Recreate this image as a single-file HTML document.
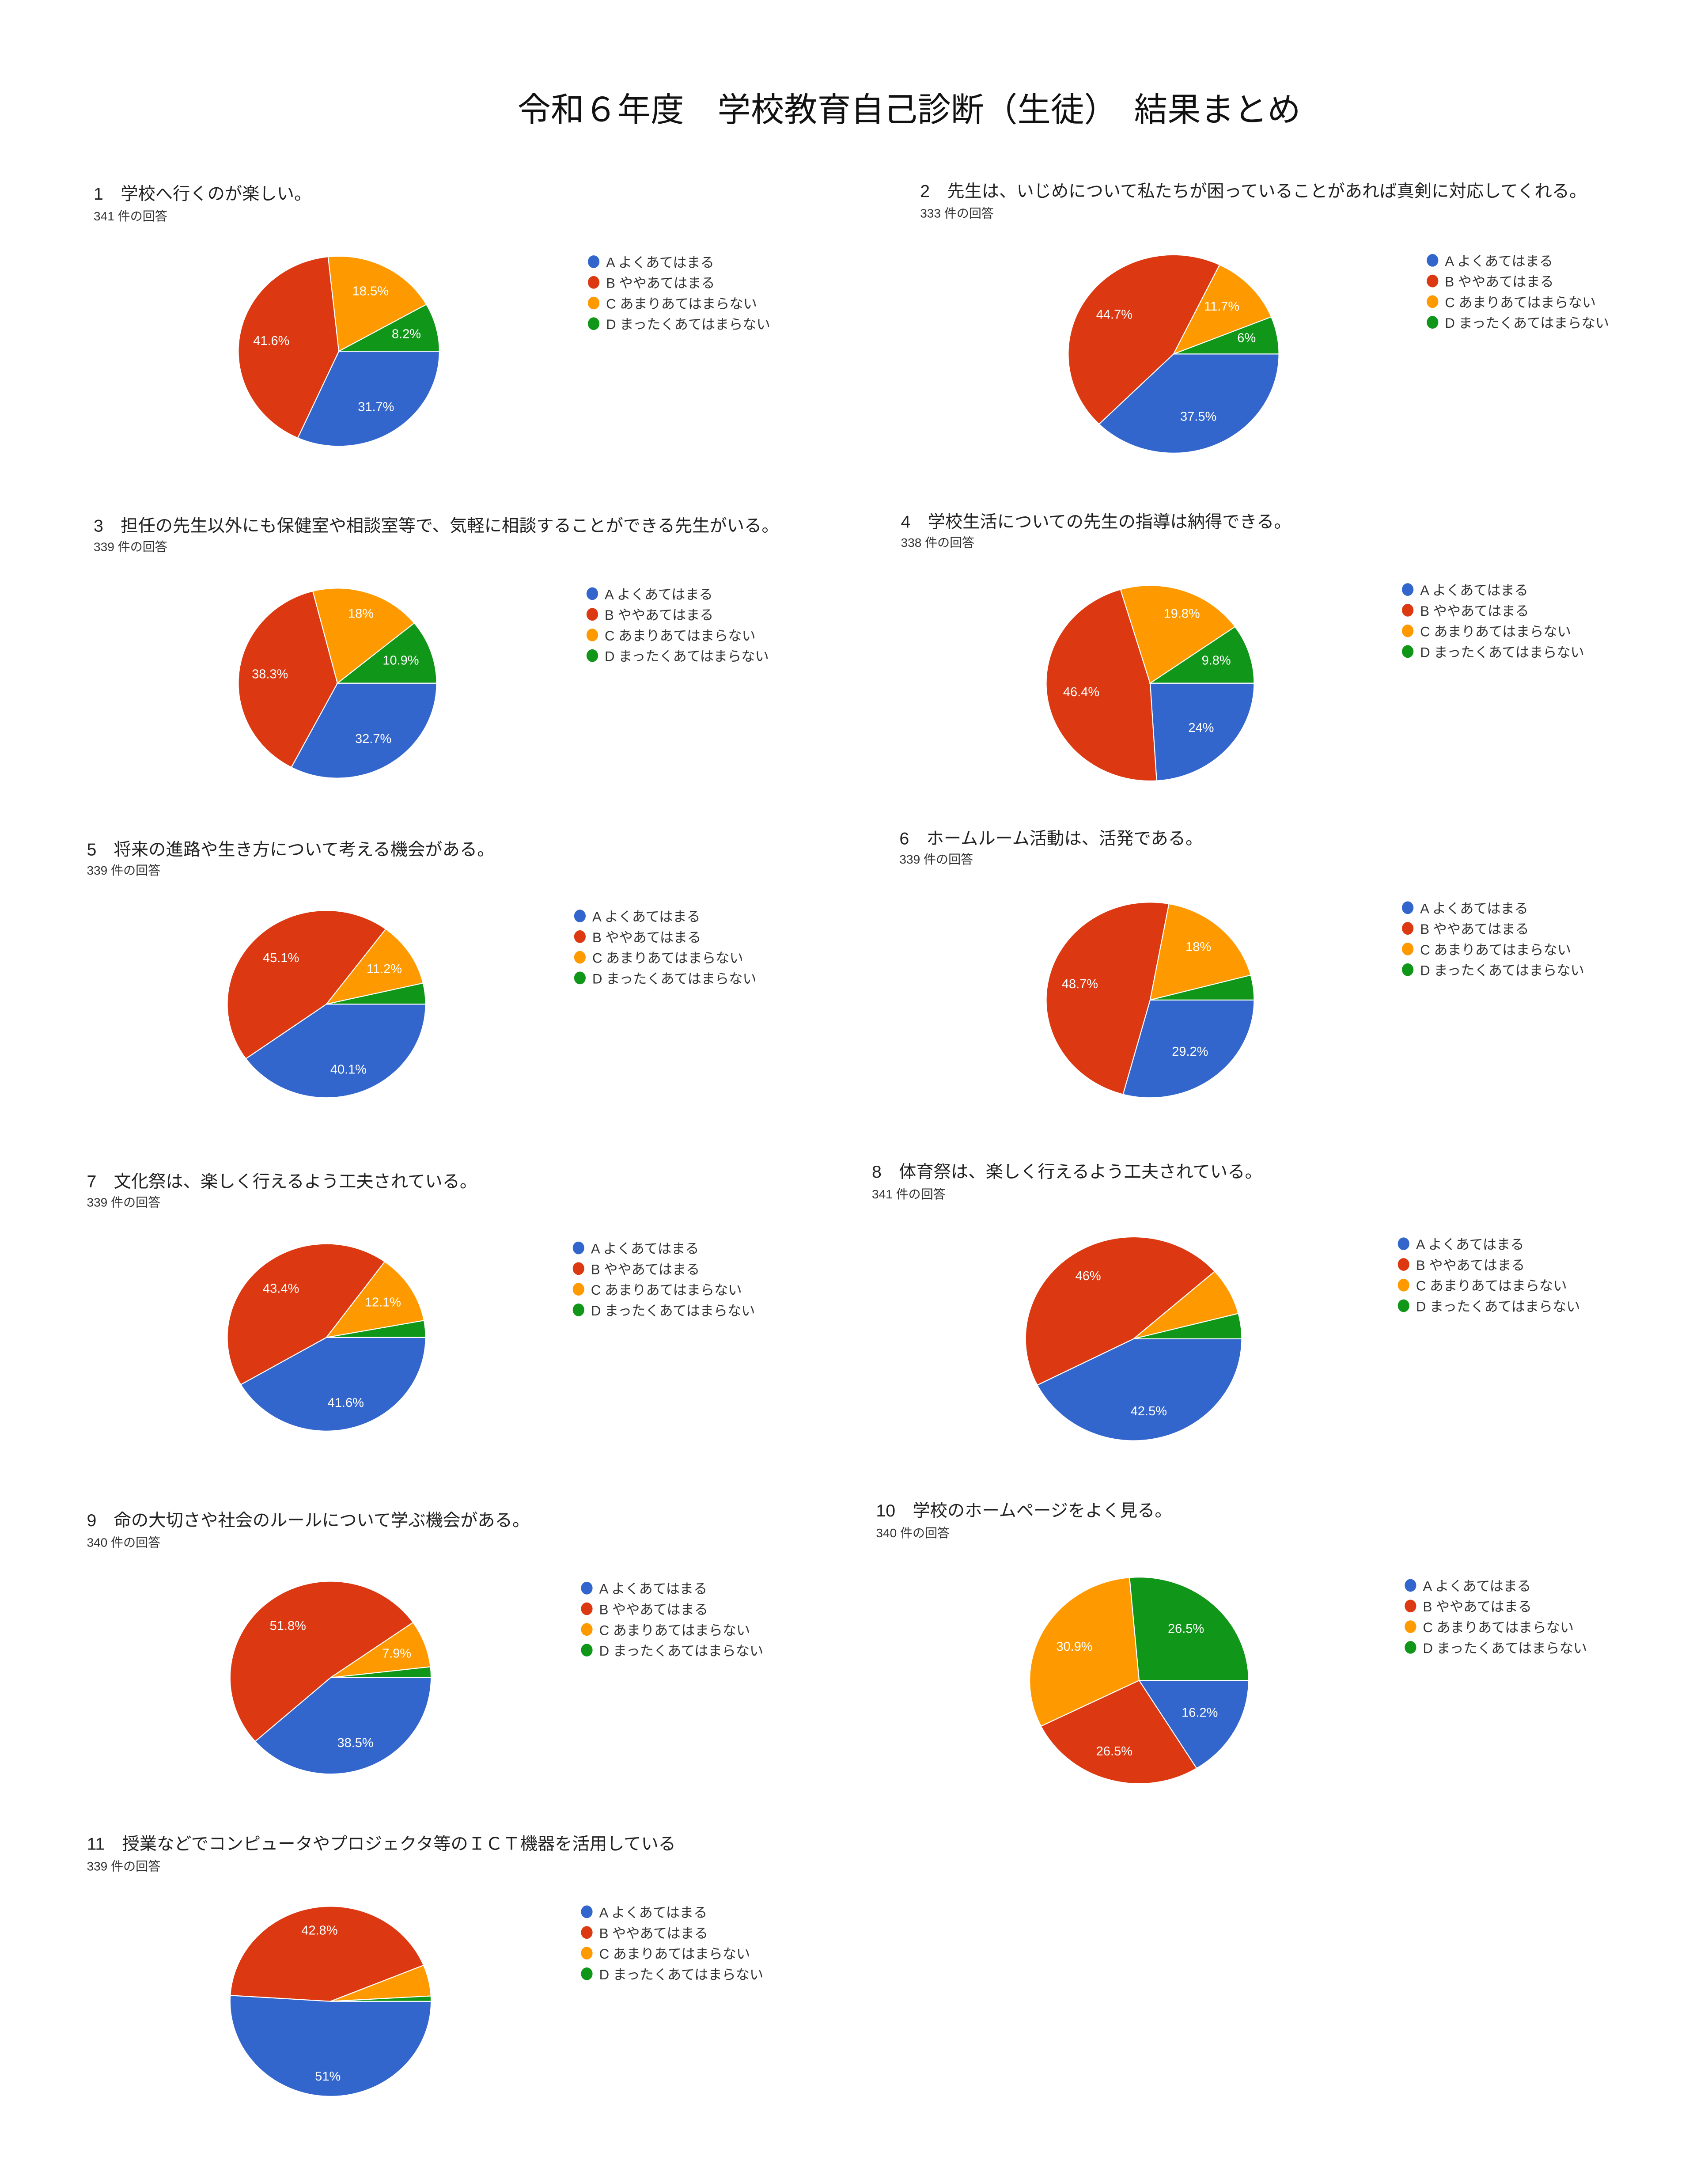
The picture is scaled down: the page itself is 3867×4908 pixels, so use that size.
<!DOCTYPE html>
<html><head><meta charset="utf-8">
<style>
html,body{margin:0;padding:0;background:#fff;}
svg{display:block;}
text{font-family:"Liberation Sans","Noto Sans CJK JP",sans-serif;}
.t{font-size:24.2px;fill:#111;}
.q{font-size:12.6px;fill:#222;}
.c{font-size:9px;fill:#333;}
.lg{font-size:10px;fill:#333;}
.p{font-size:9.3px;fill:#fff;text-anchor:middle;dominant-baseline:middle;}
</style></head><body>
<svg id="s" width="3867" height="4908" viewBox="0 0 1240 1574" preserveAspectRatio="none" xmlns="http://www.w3.org/2000/svg">
<rect width="1240" height="1574" fill="#fff"/>
<g id="pies"></g>
<text class="t" x="660" y="88" text-anchor="middle">令和６年度　学校教育自己診断（生徒）　結果まとめ</text>

<text class="q" x="68" y="145">1　学校へ行くのが楽しい。</text><text class="c" x="68" y="160">341 件の回答</text>
<text class="q" x="668" y="143">2　先生は、いじめについて私たちが困っていることがあれば真剣に対応してくれる。</text><text class="c" x="668" y="158">333 件の回答</text>
<text class="q" x="68" y="386">3　担任の先生以外にも保健室や相談室等で、気軽に相談することができる先生がいる。</text><text class="c" x="68" y="400">339 件の回答</text>
<text class="q" x="654" y="383">4　学校生活についての先生の指導は納得できる。</text><text class="c" x="654" y="397">338 件の回答</text>
<text class="q" x="63" y="621">5　将来の進路や生き方について考える機会がある。</text><text class="c" x="63" y="635">339 件の回答</text>
<text class="q" x="653" y="613">6　ホームルーム活動は、活発である。</text><text class="c" x="653" y="627">339 件の回答</text>
<text class="q" x="63" y="862">7　文化祭は、楽しく行えるよう工夫されている。</text><text class="c" x="63" y="876">339 件の回答</text>
<text class="q" x="633" y="855">8　体育祭は、楽しく行えるよう工夫されている。</text><text class="c" x="633" y="870">341 件の回答</text>
<text class="q" x="63" y="1108">9　命の大切さや社会のルールについて学ぶ機会がある。</text><text class="c" x="63" y="1123">340 件の回答</text>
<text class="q" x="636" y="1101">10　学校のホームページをよく見る。</text><text class="c" x="636" y="1116">340 件の回答</text>
<text class="q" x="63" y="1343">11　授業などでコンピュータやプロジェクタ等のＩＣＴ機器を活用している</text><text class="c" x="63" y="1358">339 件の回答</text>

<g id="legends"></g>
<g id="lt">
<text class="lg" x="440" y="194">A よくあてはまる</text><text class="lg" x="440" y="209">B ややあてはまる</text><text class="lg" x="440" y="224">C あまりあてはまらない</text><text class="lg" x="440" y="239">D まったくあてはまらない</text>
<text class="lg" x="1049" y="193">A よくあてはまる</text><text class="lg" x="1049" y="208">B ややあてはまる</text><text class="lg" x="1049" y="223">C あまりあてはまらない</text><text class="lg" x="1049" y="238">D まったくあてはまらない</text>
<text class="lg" x="439" y="435">A よくあてはまる</text><text class="lg" x="439" y="450">B ややあてはまる</text><text class="lg" x="439" y="465">C あまりあてはまらない</text><text class="lg" x="439" y="480">D まったくあてはまらない</text>
<text class="lg" x="1031" y="432">A よくあてはまる</text><text class="lg" x="1031" y="447">B ややあてはまる</text><text class="lg" x="1031" y="462">C あまりあてはまらない</text><text class="lg" x="1031" y="477">D まったくあてはまらない</text>
<text class="lg" x="430" y="669">A よくあてはまる</text><text class="lg" x="430" y="684">B ややあてはまる</text><text class="lg" x="430" y="699">C あまりあてはまらない</text><text class="lg" x="430" y="714">D まったくあてはまらない</text>
<text class="lg" x="1031" y="663">A よくあてはまる</text><text class="lg" x="1031" y="678">B ややあてはまる</text><text class="lg" x="1031" y="693">C あまりあてはまらない</text><text class="lg" x="1031" y="708">D まったくあてはまらない</text>
<text class="lg" x="429" y="910">A よくあてはまる</text><text class="lg" x="429" y="925">B ややあてはまる</text><text class="lg" x="429" y="940">C あまりあてはまらない</text><text class="lg" x="429" y="955">D まったくあてはまらない</text>
<text class="lg" x="1028" y="907">A よくあてはまる</text><text class="lg" x="1028" y="922">B ややあてはまる</text><text class="lg" x="1028" y="937">C あまりあてはまらない</text><text class="lg" x="1028" y="952">D まったくあてはまらない</text>
<text class="lg" x="435" y="1157">A よくあてはまる</text><text class="lg" x="435" y="1172">B ややあてはまる</text><text class="lg" x="435" y="1187">C あまりあてはまらない</text><text class="lg" x="435" y="1202">D まったくあてはまらない</text>
<text class="lg" x="1033" y="1155">A よくあてはまる</text><text class="lg" x="1033" y="1170">B ややあてはまる</text><text class="lg" x="1033" y="1185">C あまりあてはまらない</text><text class="lg" x="1033" y="1200">D まったくあてはまらない</text>
<text class="lg" x="435" y="1392">A よくあてはまる</text><text class="lg" x="435" y="1407">B ややあてはまる</text><text class="lg" x="435" y="1422">C あまりあてはまらない</text><text class="lg" x="435" y="1437">D まったくあてはまらない</text>
</g>

<g id="labels">
<text class="p" x="269" y="212">18.5%</text><text class="p" x="295" y="243">8.2%</text><text class="p" x="197" y="248">41.6%</text><text class="p" x="273" y="296">31.7%</text>
<text class="p" x="887" y="223">11.7%</text><text class="p" x="905" y="246">6%</text><text class="p" x="809" y="229">44.7%</text><text class="p" x="870" y="303">37.5%</text>
<text class="p" x="262" y="446">18%</text><text class="p" x="291" y="480">10.9%</text><text class="p" x="196" y="490">38.3%</text><text class="p" x="271" y="537">32.7%</text>
<text class="p" x="858" y="446">19.8%</text><text class="p" x="883" y="480">9.8%</text><text class="p" x="785" y="503">46.4%</text><text class="p" x="872" y="529">24%</text>
<text class="p" x="204" y="696">45.1%</text><text class="p" x="279" y="704">11.2%</text><text class="p" x="253" y="777">40.1%</text>
<text class="p" x="870" y="688">18%</text><text class="p" x="784" y="715">48.7%</text><text class="p" x="864" y="764">29.2%</text>
<text class="p" x="204" y="936">43.4%</text><text class="p" x="278" y="946">12.1%</text><text class="p" x="251" y="1019">41.6%</text>
<text class="p" x="790" y="927">46%</text><text class="p" x="834" y="1025">42.5%</text>
<text class="p" x="209" y="1181">51.8%</text><text class="p" x="288" y="1201">7.9%</text><text class="p" x="258" y="1266">38.5%</text>
<text class="p" x="780" y="1196">30.9%</text><text class="p" x="861" y="1183">26.5%</text><text class="p" x="871" y="1244">16.2%</text><text class="p" x="809" y="1272">26.5%</text>
<text class="p" x="232" y="1402">42.8%</text><text class="p" x="238" y="1508">51%</text>
</g>
</svg>
<script>
(function(){
var cols=["#3366cc","#dc3912","#ff9900","#109618"];
var pies=[
[246,255,73,69,[31.7,41.6,18.5,8.2]],
[852,257,76.5,72,[37.5,44.7,11.7,6.1]],
[245,496,72,69,[32.7,38.3,18.1,10.9]],
[835,496,75.5,71,[24,46.4,19.8,9.8]],
[237,729,72,68,[40.1,45.1,11.2,3.6]],
[835,726,75.5,71,[29.2,48.7,18,4.1]],
[237,971,72,68,[41.6,43.4,12.1,2.9]],
[823,972,78.5,74,[42.5,46,7.5,4]],
[240,1218,73,70,[38.5,51.8,7.9,1.8]],
[827,1220,79.5,75,[16.2,26.5,30.9,26.4]],
[240,1453,73,69,[51,42.8,5.3,0.9]]
];
var leg=[[431,190],[1040,189],[430,431],[1022,428],[421,665],[1022,659],[420,906],[1019,903],[426,1153],[1024,1151],[426,1388]];
var NS="http://www.w3.org/2000/svg",g=document.getElementById("pies"),lg=document.getElementById("legends");
pies.forEach(function(p){
 var cx=p[0],cy=p[1],rx=p[2],ry=p[3],a=0,tot=p[4].reduce(function(x,y){return x+y},0);
 p[4].forEach(function(v,i){
  var a1=a,a2=a+v/tot*2*Math.PI;a=a2;
  var x1=cx+rx*Math.cos(a1),y1=cy+ry*Math.sin(a1),x2=cx+rx*Math.cos(a2),y2=cy+ry*Math.sin(a2);
  var large=(a2-a1)>Math.PI?1:0;
  var e=document.createElementNS(NS,"path");
  e.setAttribute("d","M"+cx+","+cy+" L"+x1+","+y1+" A"+rx+","+ry+" 0 "+large+" 1 "+x2+","+y2+" Z");
  e.setAttribute("fill",cols[i]);e.setAttribute("stroke","#fff");e.setAttribute("stroke-width","0.7");
  g.appendChild(e);
 });
});
leg.forEach(function(l){
 for(var i=0;i<4;i++){var c=document.createElementNS(NS,"ellipse");
 c.setAttribute("cx",l[0]);c.setAttribute("cy",l[1]+i*15);c.setAttribute("rx",4.2);c.setAttribute("ry",4.6);c.setAttribute("fill",cols[i]);lg.appendChild(c);}
});
})();
</script>
</body></html>
